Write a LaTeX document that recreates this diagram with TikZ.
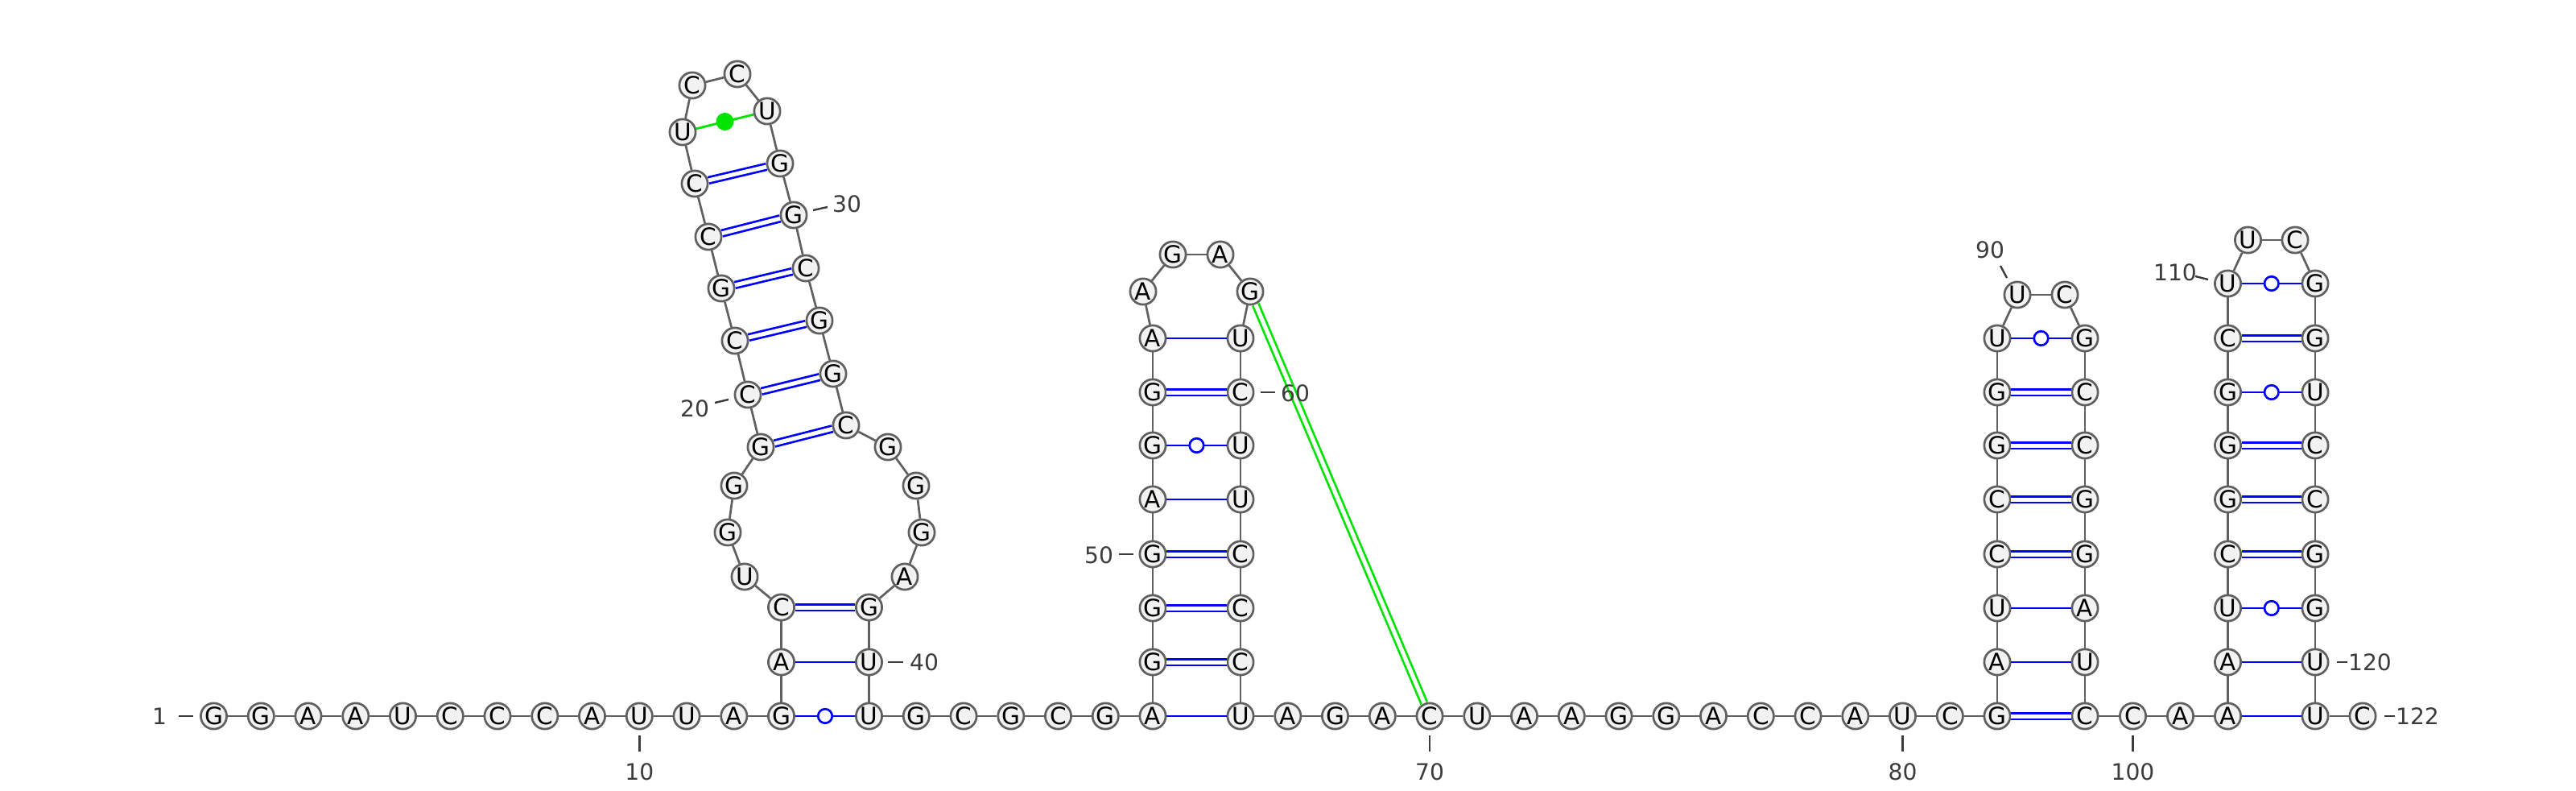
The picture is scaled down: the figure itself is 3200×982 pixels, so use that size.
\documentclass[tikz,border=0pt]{standalone}
\usepackage{fontspec}
\setmainfont{DejaVu Sans}
\definecolor{bbgray}{HTML}{606060}
\definecolor{ntfill}{HTML}{F2F2F2}
\definecolor{lblgray}{HTML}{3C3C3C}
\definecolor{grn}{RGB}{0,228,0}
\begin{document}
\begin{tikzpicture}[x=0.01cm,y=-0.01cm,
  nt/.style={circle,draw=bbgray,fill=ntfill,line width=0.027cm,minimum size=0.322cm,inner sep=0pt,font=\fontsize{8.4}{9}\selectfont},
  bb/.style={draw=bbgray,line width=0.027cm},
  wc/.style={draw=blue,line width=0.028cm},
  cw/.style={draw=blue,line width=0.027cm,double=white,double distance=0.05cm},
  gudot/.style={circle,draw=blue,fill=white,line width=0.027cm,minimum size=0.175cm,inner sep=0pt},
  gline/.style={draw=grn,line width=0.028cm},
  gdbl/.style={draw=grn,line width=0.027cm,double=white,double distance=0.05cm},
  gfdot/.style={circle,fill=grn,minimum size=0.22cm,inner sep=0pt},
  lbl/.style={text=lblgray,inner sep=0pt,font=\fontsize{8}{9}\selectfont},
  tick/.style={draw=lblgray,line width=0.024cm}]
\useasboundingbox (0,0) rectangle (3200,982);
\fill[white] (0,0) rectangle (3200,982);
% nucleotides
\foreach \x/\y/\b [count=\i] in {
265.5/889/G,324.3/889/G,383/889/A,441.8/889/A,500.5/889/U,559.3/889/C,618/889/C,676.8/889/C,735.5/889/A,794.3/889/U,
853/889/U,911.8/889/A,970.5/889/G,970.5/822/A,970.5/754/C,925/716/U,904/661/G,912/603/G,945/555/G,929/490/C,
913/423/C,896/358/G,880/294/C,863/228/C,848/164/U,860/106/C,916/92/C,953/138/U,969/203/G,986/267/G,
1001/333/C,1018/398/G,1035/464/G,1051/528/C,1103/555/G,1138/603/G,1145/661/G,1124/716/A,1079.5/754/G,1079.5/822/U,
1079.5/889/U,1138.3/889/G,1197/889/C,1255.8/889/G,1314.5/889/C,1373.3/889/G,1432/889/A,1432/822/G,1432/755/G,1432/688/G,
1432/620/A,1432/553/G,1432/487/G,1432/420/A,1420/362/A,1457/316/G,1516/316/A,1553/362/G,1541/420/U,1541/487/C,
1541/553/U,1541/620/U,1541/688/C,1541/755/C,1541/822/C,1541/889/U,1599.8/889/A,1658.5/889/G,1717.3/889/A,1776/889/C,
1834.8/889/U,1893.5/889/A,1952.3/889/A,2011/889/G,2069.8/889/G,2128.5/889/A,2187.3/889/C,2246/889/C,2304.8/889/A,2363.5/889/U,
2422.3/889/C,2481/889/G,2481/822/A,2481/755/U,2481/688/C,2481/620/C,2481/553/G,2481/487/G,2481/420/U,2506/366/U,
2565/366/C,2590/420/G,2590/487/C,2590/553/C,2590/620/G,2590/688/G,2590/755/A,2590/822/U,2590/889/C,2649.5/889/C,
2708.5/889/A,2767.5/889/A,2767.5/822/A,2767.5/755/U,2767.5/688/C,2767.5/620/G,2767.5/553/G,2767.5/487/G,2767.5/420/C,2767.5/352/U,
2792.5/298/U,2851/298/C,2876/352/G,2876/420/G,2876/487/U,2876/553/C,2876/620/C,2876/688/G,2876/755/G,2876/822/U,
2876/889/U,2935/889/C}
  \node[nt] (n\i) at (\x,\y) {\b};
% backbone
\foreach \i in {1,...,121} {\pgfmathtruncatemacro\j{\i+1}\draw[bb] (n\i) -- (n\j);}
% canonical pairs, double
\foreach \a/\b in {15/39,19/34,20/33,21/32,22/31,23/30,24/29,48/65,49/64,50/63,53/60,82/99,85/96,86/95,87/94,88/93,105/118,106/117,107/116,109/114}
  \draw[cw] (n\a) -- (n\b);
% single A-U pairs
\foreach \a/\b in {14/40,47/66,51/62,54/59,83/98,84/97,102/121,103/120}
  \draw[wc] (n\a) -- (n\b);
% G-U pairs
\foreach \a/\b in {13/41,52/61,89/92,104/119,108/115,110/113}
  \draw[wc] (n\a) -- (n\b) node[gudot,midway] (gu\a) {};
% non-canonical
\draw[gline] (n25) -- (n28) node[gfdot,midway] (gd25) {};
\draw[gdbl] (n58) -- (n70);
% labels
\node[lbl] (l1) at (198,889) {1};
\draw[tick] (222,889) -- (240,889);
\node[lbl] (l10) at (794.3,958) {10};
\draw[tick] (794.3,913) -- (794.3,933);
\node[lbl] (l20) at (863,507) {20};
\draw[tick] (888,500) -- (905,496);
\node[lbl] (l30) at (1052,253) {30};
\draw[tick] (1010,261) -- (1028,257);
\node[lbl] (l40) at (1148,822) {40};
\draw[tick] (1103,822) -- (1122,822);
\node[lbl] (l50) at (1365,689) {50};
\draw[tick] (1390,688) -- (1408,688);
\node[lbl] (l60) at (1609,488) {60};
\draw[tick] (1566,487) -- (1584,487);
\node[lbl] (l70) at (1776,958) {70};
\draw[tick] (1776,913) -- (1776,933);
\node[lbl] (l80) at (2363.5,958) {80};
\draw[tick] (2363.5,913) -- (2363.5,933);
\node[lbl] (l90) at (2472,310) {90};
\draw[tick] (2485,330) -- (2493,345);
\node[lbl] (l100) at (2649.5,958) {100};
\draw[tick] (2649.5,913) -- (2649.5,933);
\node[lbl] (l110) at (2702,338) {110};
\draw[tick] (2727,343) -- (2743,347);
\node[lbl] (l120) at (2944,822) {120};
\draw[tick] (2903,822) -- (2916,822);
\node[lbl] (l122) at (3003,889) {122};
\draw[tick] (2962,889) -- (2975,889);
\end{tikzpicture}
\end{document}
